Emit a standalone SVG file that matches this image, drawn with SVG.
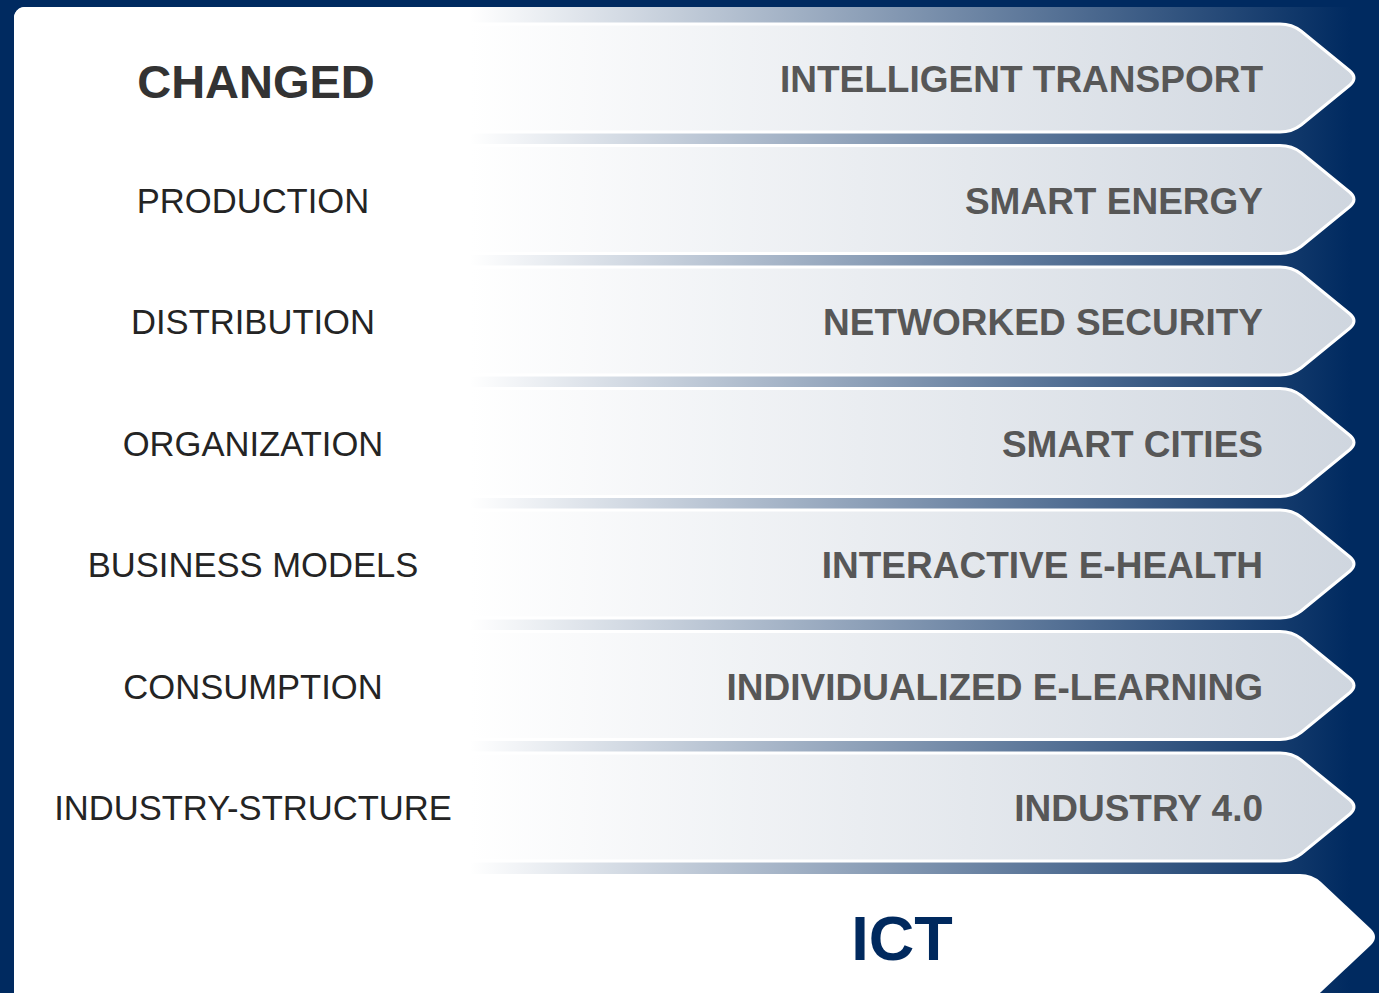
<svg xmlns="http://www.w3.org/2000/svg" xmlns:xlink="http://www.w3.org/1999/xlink" width="1379" height="993" viewBox="0 0 1379 993">
<defs>
<linearGradient id="bandGrad" gradientUnits="userSpaceOnUse" x1="470" y1="0" x2="1350" y2="0">
<stop offset="0" stop-color="#ffffff"/>
<stop offset="1" stop-color="#002a60"/>
</linearGradient>
<linearGradient id="arrowGrad" gradientUnits="userSpaceOnUse" x1="470" y1="0" x2="1357" y2="0">
<stop offset="0" stop-color="#ffffff"/>
<stop offset="1" stop-color="#cfd6df"/>
</linearGradient>
<path id="arrow" d="M470,24 H1280 Q1292,24 1301,31 L1350,71 Q1358,78 1350,85 L1301,125 Q1292,132 1280,132 H470 Z"/>
<style>
.arrow{fill:url(#arrowGrad);stroke:#ffffff;stroke-width:3;stroke-linejoin:round}
.rt{font-family:"Liberation Sans",Arial,sans-serif;font-weight:bold;font-size:37px;fill:#575757;text-anchor:end}
.lt{font-family:"Liberation Sans",Arial,sans-serif;font-size:34.6px;fill:#242424;text-anchor:middle}
</style>
</defs>
<rect x="0" y="0" width="1379" height="993" fill="#002a60"/>
<rect x="14" y="7" width="1400" height="1010" rx="11" ry="11" fill="url(#bandGrad)"/>
<rect x="14" y="7" width="456" height="1010" rx="11" ry="11" fill="#ffffff"/>
<rect x="200" y="7" width="271" height="1000" fill="#ffffff"/>

<g id="header">
<text x="256" y="98" font-family="Liberation Sans, Arial, sans-serif" font-weight="bold" font-size="47" fill="#333333" text-anchor="middle">CHANGED</text>
</g>

<g id="row1">
<use xlink:href="#arrow" class="arrow"/>
<text class="rt" x="1263" y="92">INTELLIGENT TRANSPORT</text>
</g>
<g id="row2" transform="translate(0,121.5)">
<use xlink:href="#arrow" class="arrow"/>
<text class="rt" x="1263" y="92">SMART ENERGY</text>
<text class="lt" x="253" y="91">PRODUCTION</text>
</g>
<g id="row3" transform="translate(0,243)">
<use xlink:href="#arrow" class="arrow"/>
<text class="rt" x="1263" y="92">NETWORKED SECURITY</text>
<text class="lt" x="253" y="91">DISTRIBUTION</text>
</g>
<g id="row4" transform="translate(0,364.5)">
<use xlink:href="#arrow" class="arrow"/>
<text class="rt" x="1263" y="92">SMART CITIES</text>
<text class="lt" x="253" y="91">ORGANIZATION</text>
</g>
<g id="row5" transform="translate(0,486)">
<use xlink:href="#arrow" class="arrow"/>
<text class="rt" x="1263" y="92">INTERACTIVE E-HEALTH</text>
<text class="lt" x="253" y="91">BUSINESS MODELS</text>
</g>
<g id="row6" transform="translate(0,607.5)">
<use xlink:href="#arrow" class="arrow"/>
<text class="rt" x="1263" y="92">INDIVIDUALIZED E-LEARNING</text>
<text class="lt" x="253" y="91">CONSUMPTION</text>
</g>
<g id="row7" transform="translate(0,729)">
<use xlink:href="#arrow" class="arrow"/>
<text class="rt" x="1263" y="92">INDUSTRY 4.0</text>
<text class="lt" x="253" y="91">INDUSTRY-STRUCTURE</text>
</g>

<g id="ict">
<path d="M470,874 H1300 Q1312,874 1321,882 L1371,929 Q1379,937 1371,945 L1321,992 Q1312,1000 1300,1000 H470 Z" fill="#ffffff"/>
<text x="902" y="960" font-family="Liberation Sans, Arial, sans-serif" font-weight="bold" font-size="63" fill="#00295e" text-anchor="middle">ICT</text>
</g>
<g id="connectors"/>
</svg>
